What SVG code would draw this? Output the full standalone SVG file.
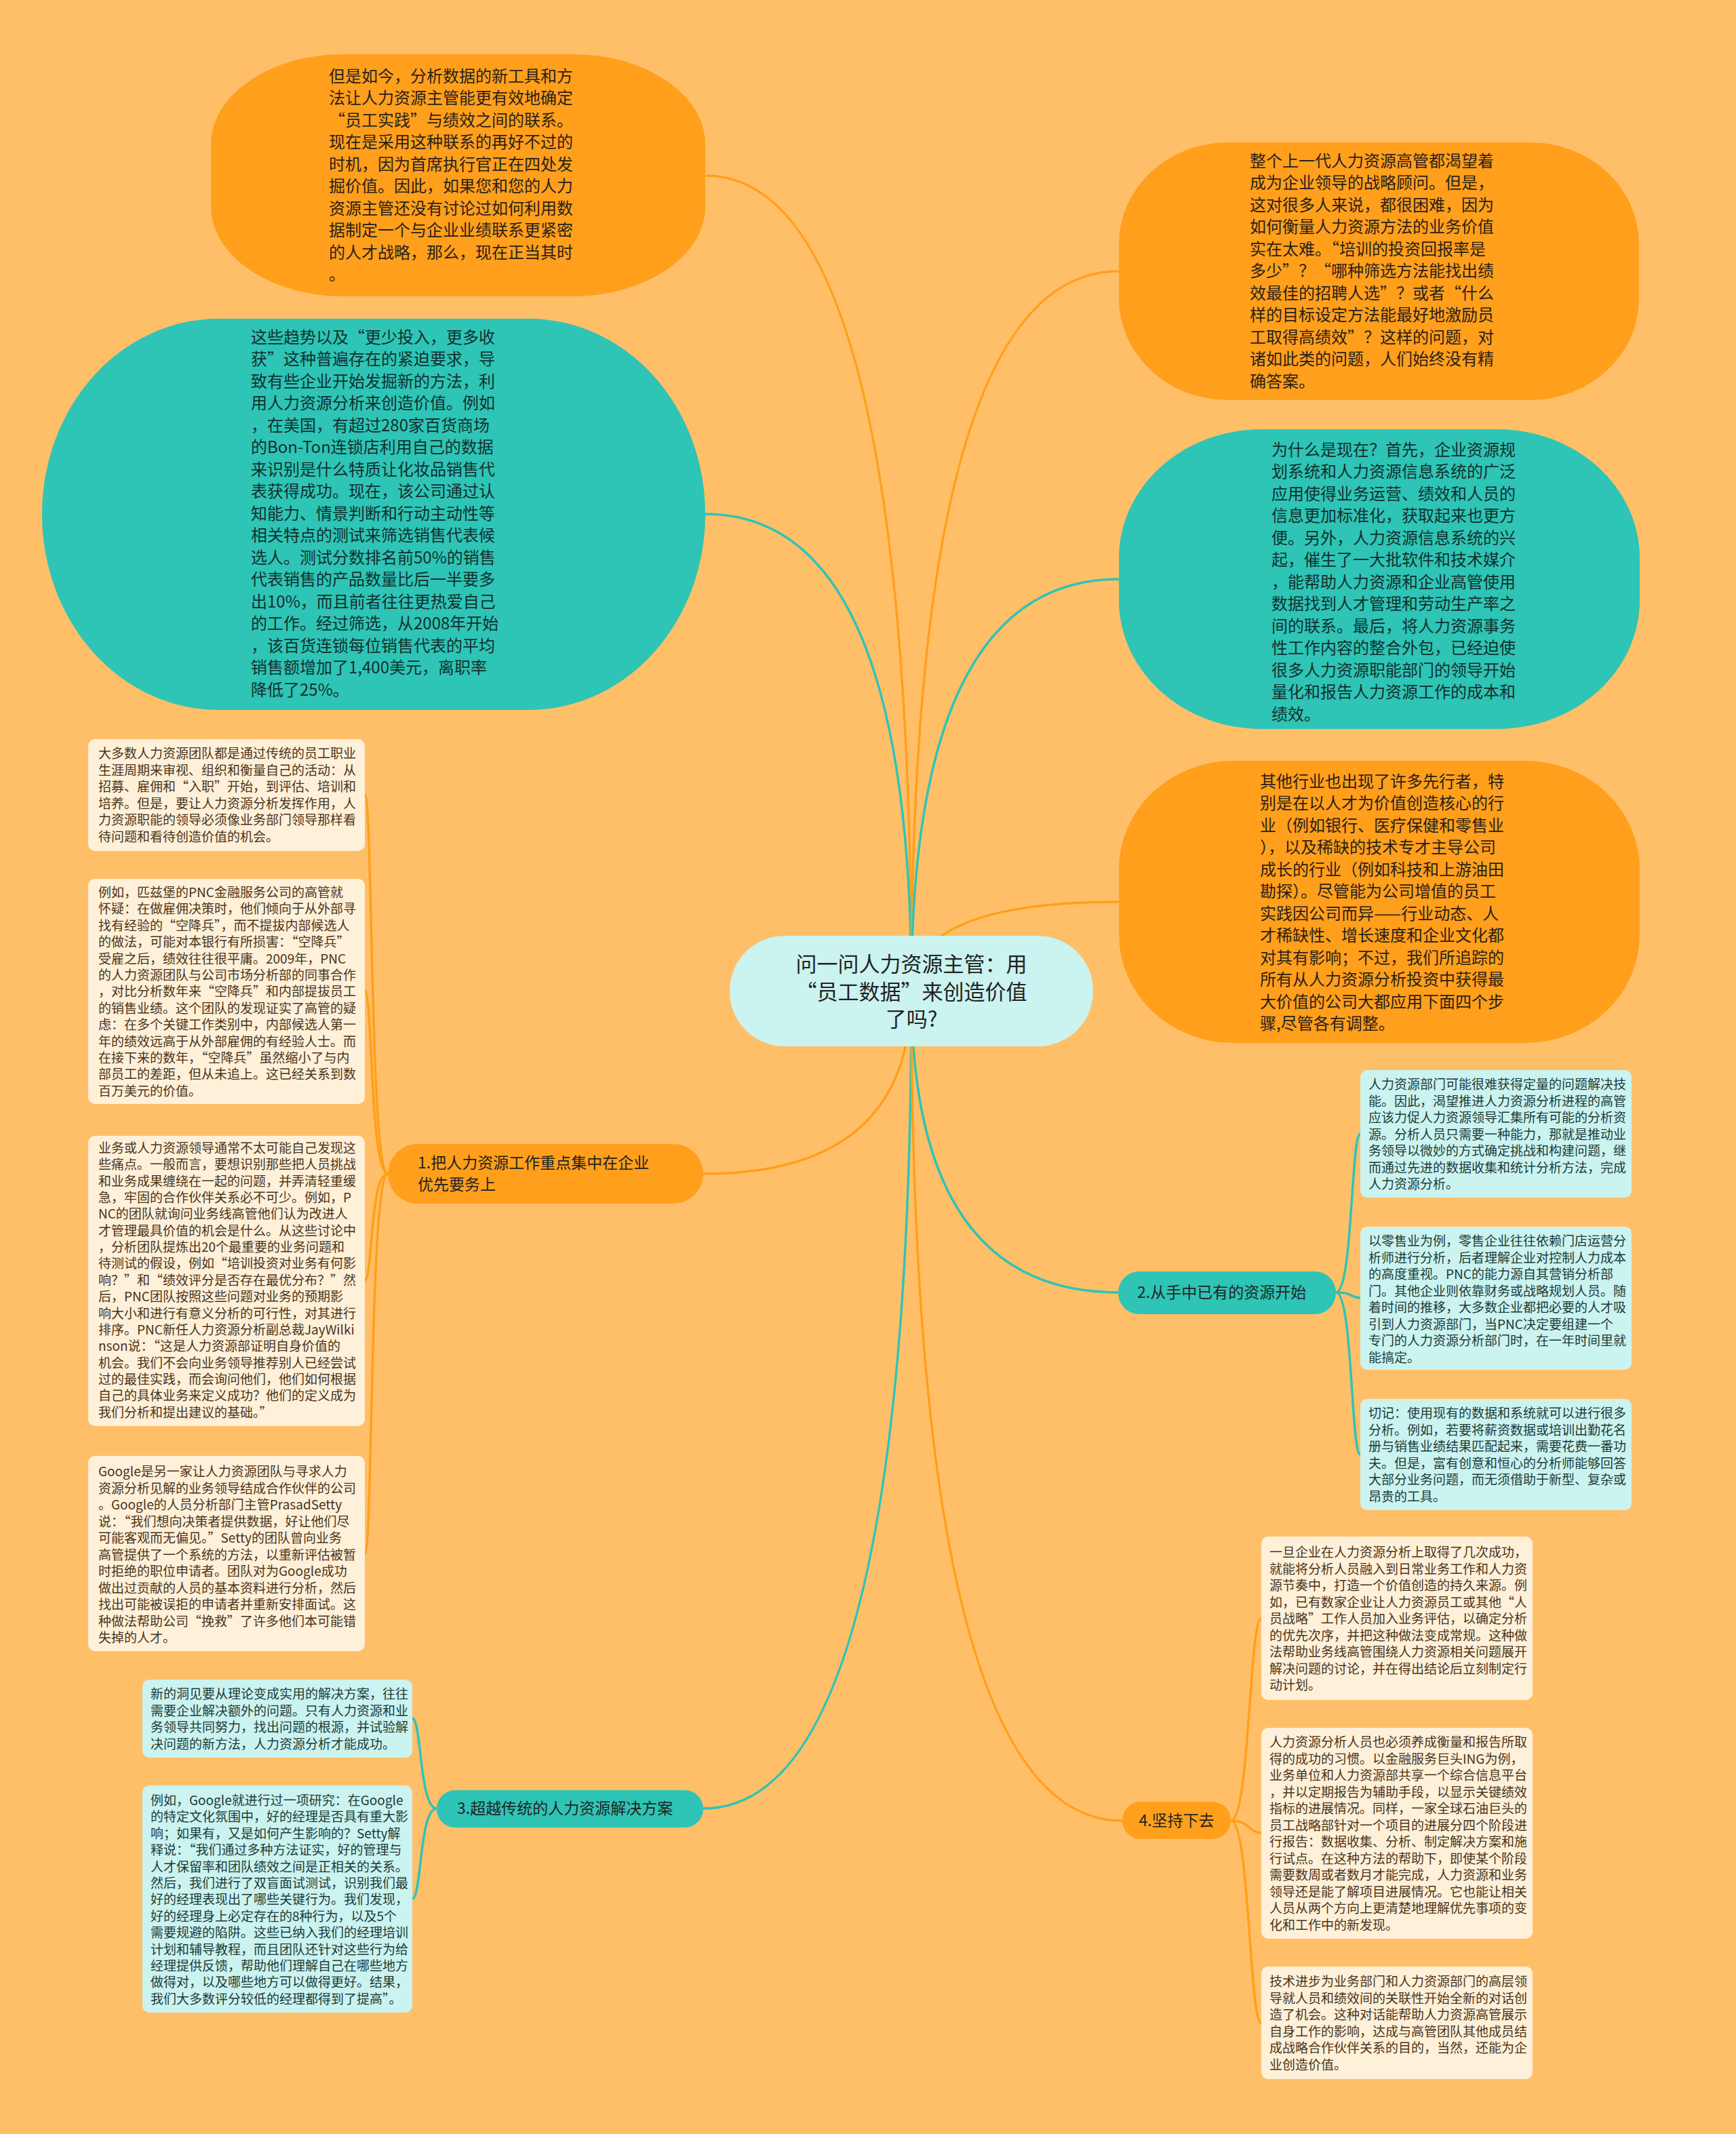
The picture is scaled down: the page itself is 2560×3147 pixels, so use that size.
<svg xmlns="http://www.w3.org/2000/svg" width="2560" height="3147" viewBox="0 0 2560 3147">
<style>
.bg{fill:#FFBF69}
.or{fill:#FF9F1C}
.te{fill:#2EC4B6}
.ce{fill:#CBF3F0}
.bo{fill:#FFF0D9}
.bt{fill:#CBF3F0}
.lo{fill:none;stroke:#FF9F1C;stroke-width:3.5}
.lt{fill:none;stroke:#2EC4B6;stroke-width:3.5}
text{font-family:"Noto Sans CJK SC","Noto Sans",sans-serif}
.big{font-size:24px}
.sm{font-size:19px}
.lab{font-size:23px;fill:#222}
.dko{fill:#2A2118}
.dkt{fill:#12302D}
.bro{fill:#4A3318}
.brt{fill:#1C3A37}
</style>
<rect class="bg" x="0" y="0" width="2560" height="3147"/>
<g id="connectors">
<path class="lo" d="M1344,1461 Q1344,259 1040,259"/>
<path class="lt" d="M1344,1461 Q1344,758 1040,758"/>
<path class="lo" d="M1344,1461 Q1344,400 1650,400"/>
<path class="lt" d="M1344,1461 Q1344,854 1650,854"/>
<path class="lo" d="M1344,1461 Q1344,1330 1650,1330"/>
<path class="lo" d="M1344,1461 Q1344,1731 1037,1731"/>
<path class="lt" d="M1344,1461 Q1344,1906 1649,1906"/>
<path class="lt" d="M1344,1461 Q1344,2667 1037,2667"/>
<path class="lo" d="M1344,1461 Q1344,2685 1655,2685"/>
<path class="lo" d="M572,1731 C545,1731 550,1172 538,1172"/>
<path class="lo" d="M572,1731 C545,1731 550,1462 538,1462"/>
<path class="lo" d="M572,1731 C545,1731 550,1888 538,1888"/>
<path class="lo" d="M572,1731 C545,1731 550,2291 538,2291"/>
<path class="lt" d="M1970,1906 C1995,1906 1992,1672 2006,1672"/>
<path class="lt" d="M1970,1906 C1995,1906 1992,1914 2006,1914"/>
<path class="lt" d="M1970,1906 C1995,1906 1992,2145 2006,2145"/>
<path class="lt" d="M644,2667 C618,2667 622,2534 608,2534"/>
<path class="lt" d="M644,2667 C618,2667 622,2800 608,2800"/>
<path class="lo" d="M1815,2685 C1843,2685 1842,2387 1860,2387"/>
<path class="lo" d="M1815,2685 C1843,2685 1842,2703 1860,2703"/>
<path class="lo" d="M1815,2685 C1843,2685 1842,2983 1860,2983"/>
</g>
<g id="center">
<rect class="ce" x="1076" y="1380" width="536" height="163" rx="81"/>
<text x="1344" y="1433" font-size="31" fill="#222" text-anchor="middle"><tspan x="1344">问一问人力资源主管：用</tspan><tspan x="1344" dy="40.5">“员工数据”来创造价值</tspan><tspan x="1344" dy="40.5">了吗?</tspan></text>
</g>
<g id="node-tl">
<rect class="or" x="311" y="80" width="729" height="357" rx="195" ry="133"/>
<text class="big dko" x="485" y="120.5"><tspan x="485">但是如今，分析数据的新工具和方</tspan><tspan x="485" dy="32.5">法让人力资源主管能更有效地确定</tspan><tspan x="485" dy="32.5">“员工实践”与绩效之间的联系。</tspan><tspan x="485" dy="32.5">现在是采用这种联系的再好不过的</tspan><tspan x="485" dy="32.5">时机，因为首席执行官正在四处发</tspan><tspan x="485" dy="32.5">掘价值。因此，如果您和您的人力</tspan><tspan x="485" dy="32.5">资源主管还没有讨论过如何利用数</tspan><tspan x="485" dy="32.5">据制定一个与企业业绩联系更紧密</tspan><tspan x="485" dy="32.5">的人才战略，那么，现在正当其时</tspan><tspan x="485" dy="32.5">。</tspan></text>
</g>
<g id="node-tealleft">
<rect class="te" x="62" y="470" width="978" height="577" rx="260" ry="288"/>
<text class="big dkt" x="370" y="505.5"><tspan x="370">这些趋势以及“更少投入，更多收</tspan><tspan x="370" dy="32.5">获”这种普遍存在的紧迫要求，导</tspan><tspan x="370" dy="32.5">致有些企业开始发掘新的方法，利</tspan><tspan x="370" dy="32.5">用人力资源分析来创造价值。例如</tspan><tspan x="370" dy="32.5">，在美国，有超过280家百货商场</tspan><tspan x="370" dy="32.5">的Bon-Ton连锁店利用自己的数据</tspan><tspan x="370" dy="32.5">来识别是什么特质让化妆品销售代</tspan><tspan x="370" dy="32.5">表获得成功。现在，该公司通过认</tspan><tspan x="370" dy="32.5">知能力、情景判断和行动主动性等</tspan><tspan x="370" dy="32.5">相关特点的测试来筛选销售代表候</tspan><tspan x="370" dy="32.5">选人。测试分数排名前50%的销售</tspan><tspan x="370" dy="32.5">代表销售的产品数量比后一半要多</tspan><tspan x="370" dy="32.5">出10%，而且前者往往更热爱自己</tspan><tspan x="370" dy="32.5">的工作。经过筛选，从2008年开始</tspan><tspan x="370" dy="32.5">，该百货连锁每位销售代表的平均</tspan><tspan x="370" dy="32.5">销售额增加了1,400美元，离职率</tspan><tspan x="370" dy="32.5">降低了25%。</tspan></text>
</g>
<g id="node-r1">
<rect class="or" x="1650" y="210" width="767" height="380" rx="160" ry="150"/>
<text class="big dko" x="1843" y="245.5"><tspan x="1843">整个上一代人力资源高管都渴望着</tspan><tspan x="1843" dy="32.5">成为企业领导的战略顾问。但是，</tspan><tspan x="1843" dy="32.5">这对很多人来说，都很困难，因为</tspan><tspan x="1843" dy="32.5">如何衡量人力资源方法的业务价值</tspan><tspan x="1843" dy="32.5">实在太难。“培训的投资回报率是</tspan><tspan x="1843" dy="32.5">多少”？“哪种筛选方法能找出绩</tspan><tspan x="1843" dy="32.5">效最佳的招聘人选”？或者“什么</tspan><tspan x="1843" dy="32.5">样的目标设定方法能最好地激励员</tspan><tspan x="1843" dy="32.5">工取得高绩效”？这样的问题，对</tspan><tspan x="1843" dy="32.5">诸如此类的问题，人们始终没有精</tspan><tspan x="1843" dy="32.5">确答案。</tspan></text>
</g>
<g id="node-r2">
<rect class="te" x="1650" y="633" width="768" height="442" rx="210" ry="190"/>
<text class="big dkt" x="1875" y="671.5"><tspan x="1875">为什么是现在？首先，企业资源规</tspan><tspan x="1875" dy="32.5">划系统和人力资源信息系统的广泛</tspan><tspan x="1875" dy="32.5">应用使得业务运营、绩效和人员的</tspan><tspan x="1875" dy="32.5">信息更加标准化，获取起来也更方</tspan><tspan x="1875" dy="32.5">便。另外，人力资源信息系统的兴</tspan><tspan x="1875" dy="32.5">起，催生了一大批软件和技术媒介</tspan><tspan x="1875" dy="32.5">，能帮助人力资源和企业高管使用</tspan><tspan x="1875" dy="32.5">数据找到人才管理和劳动生产率之</tspan><tspan x="1875" dy="32.5">间的联系。最后，将人力资源事务</tspan><tspan x="1875" dy="32.5">性工作内容的整合外包，已经迫使</tspan><tspan x="1875" dy="32.5">很多人力资源职能部门的领导开始</tspan><tspan x="1875" dy="32.5">量化和报告人力资源工作的成本和</tspan><tspan x="1875" dy="32.5">绩效。</tspan></text>
</g>
<g id="node-r3">
<rect class="or" x="1650" y="1122" width="768" height="416" rx="168" ry="160"/>
<text class="big dko" x="1858" y="1160.5"><tspan x="1858">其他行业也出现了许多先行者，特</tspan><tspan x="1858" dy="32.5">别是在以人才为价值创造核心的行</tspan><tspan x="1858" dy="32.5">业（例如银行、医疗保健和零售业</tspan><tspan x="1858" dy="32.5">），以及稀缺的技术专才主导公司</tspan><tspan x="1858" dy="32.5">成长的行业（例如科技和上游油田</tspan><tspan x="1858" dy="32.5">勘探）。尽管能为公司增值的员工</tspan><tspan x="1858" dy="32.5">实践因公司而异——行业动态、人</tspan><tspan x="1858" dy="32.5">才稀缺性、增长速度和企业文化都</tspan><tspan x="1858" dy="32.5">对其有影响；不过，我们所追踪的</tspan><tspan x="1858" dy="32.5">所有从人力资源分析投资中获得最</tspan><tspan x="1858" dy="32.5">大价值的公司大都应用下面四个步</tspan><tspan x="1858" dy="32.5">骤,尽管各有调整。</tspan></text>
</g>
<g id="branch-1">
<rect class="or" x="572" y="1687" width="465" height="88" rx="44"/>
<text class="lab" x="616" y="1723"><tspan x="616">1.把人力资源工作重点集中在企业</tspan><tspan x="616" dy="32">优先要务上</tspan></text>
</g>
<g id="box-1a">
<rect class="bo" x="130" y="1090" width="408" height="165" rx="10"/>
<text class="sm bro" x="145" y="1118"><tspan x="145">大多数人力资源团队都是通过传统的员工职业</tspan><tspan x="145" dy="24.5">生涯周期来审视、组织和衡量自己的活动：从</tspan><tspan x="145" dy="24.5">招募、雇佣和“入职”开始，到评估、培训和</tspan><tspan x="145" dy="24.5">培养。但是，要让人力资源分析发挥作用，人</tspan><tspan x="145" dy="24.5">力资源职能的领导必须像业务部门领导那样看</tspan><tspan x="145" dy="24.5">待问题和看待创造价值的机会。</tspan></text>
</g>
<g id="box-1b">
<rect class="bo" x="130" y="1296" width="408" height="332" rx="10"/>
<text class="sm bro" x="145" y="1323"><tspan x="145">例如，匹兹堡的PNC金融服务公司的高管就</tspan><tspan x="145" dy="24.4">怀疑：在做雇佣决策时，他们倾向于从外部寻</tspan><tspan x="145" dy="24.4">找有经验的“空降兵”，而不提拔内部候选人</tspan><tspan x="145" dy="24.4">的做法，可能对本银行有所损害：“空降兵”</tspan><tspan x="145" dy="24.4">受雇之后，绩效往往很平庸。2009年，PNC</tspan><tspan x="145" dy="24.4">的人力资源团队与公司市场分析部的同事合作</tspan><tspan x="145" dy="24.4">，对比分析数年来“空降兵”和内部提拔员工</tspan><tspan x="145" dy="24.4">的销售业绩。这个团队的发现证实了高管的疑</tspan><tspan x="145" dy="24.4">虑：在多个关键工作类别中，内部候选人第一</tspan><tspan x="145" dy="24.4">年的绩效远高于从外部雇佣的有经验人士。而</tspan><tspan x="145" dy="24.4">在接下来的数年，“空降兵”虽然缩小了与内</tspan><tspan x="145" dy="24.4">部员工的差距，但从未追上。这已经关系到数</tspan><tspan x="145" dy="24.4">百万美元的价值。</tspan></text>
</g>
<g id="box-1c">
<rect class="bo" x="130" y="1675" width="408" height="428" rx="10"/>
<text class="sm bro" x="145" y="1700"><tspan x="145">业务或人力资源领导通常不太可能自己发现这</tspan><tspan x="145" dy="24.35">些痛点。一般而言，要想识别那些把人员挑战</tspan><tspan x="145" dy="24.35">和业务成果缠绕在一起的问题，并弄清轻重缓</tspan><tspan x="145" dy="24.35">急，牢固的合作伙伴关系必不可少。例如，P</tspan><tspan x="145" dy="24.35">NC的团队就询问业务线高管他们认为改进人</tspan><tspan x="145" dy="24.35">才管理最具价值的机会是什么。从这些讨论中</tspan><tspan x="145" dy="24.35">，分析团队提炼出20个最重要的业务问题和</tspan><tspan x="145" dy="24.35">待测试的假设，例如“培训投资对业务有何影</tspan><tspan x="145" dy="24.35">响？”和“绩效评分是否存在最优分布？”然</tspan><tspan x="145" dy="24.35">后，PNC团队按照这些问题对业务的预期影</tspan><tspan x="145" dy="24.35">响大小和进行有意义分析的可行性，对其进行</tspan><tspan x="145" dy="24.35">排序。PNC新任人力资源分析副总裁JayWilki</tspan><tspan x="145" dy="24.35">nson说：“这是人力资源部证明自身价值的</tspan><tspan x="145" dy="24.35">机会。我们不会向业务领导推荐别人已经尝试</tspan><tspan x="145" dy="24.35">过的最佳实践，而会询问他们，他们如何根据</tspan><tspan x="145" dy="24.35">自己的具体业务来定义成功？他们的定义成为</tspan><tspan x="145" dy="24.35">我们分析和提出建议的基础。”</tspan></text>
</g>
<g id="box-1d">
<rect class="bo" x="130" y="2147" width="408" height="288" rx="10"/>
<text class="sm bro" x="145" y="2177"><tspan x="145">Google是另一家让人力资源团队与寻求人力</tspan><tspan x="145" dy="24.5">资源分析见解的业务领导结成合作伙伴的公司</tspan><tspan x="145" dy="24.5">。Google的人员分析部门主管PrasadSetty</tspan><tspan x="145" dy="24.5">说：“我们想向决策者提供数据，好让他们尽</tspan><tspan x="145" dy="24.5">可能客观而无偏见。”Setty的团队曾向业务</tspan><tspan x="145" dy="24.5">高管提供了一个系统的方法，以重新评估被暂</tspan><tspan x="145" dy="24.5">时拒绝的职位申请者。团队对为Google成功</tspan><tspan x="145" dy="24.5">做出过贡献的人员的基本资料进行分析，然后</tspan><tspan x="145" dy="24.5">找出可能被误拒的申请者并重新安排面试。这</tspan><tspan x="145" dy="24.5">种做法帮助公司“挽救”了许多他们本可能错</tspan><tspan x="145" dy="24.5">失掉的人才。</tspan></text>
</g>
<g id="branch-2">
<rect class="te" x="1649" y="1875" width="321" height="63" rx="31"/>
<text class="lab" x="1677" y="1914">2.从手中已有的资源开始</text>
</g>
<g id="box-2a">
<rect class="bt" x="2006" y="1578" width="400" height="188" rx="10"/>
<text class="sm brt" x="2018" y="1606"><tspan x="2018">人力资源部门可能很难获得定量的问题解决技</tspan><tspan x="2018" dy="24.5">能。因此，渴望推进人力资源分析进程的高管</tspan><tspan x="2018" dy="24.5">应该力促人力资源领导汇集所有可能的分析资</tspan><tspan x="2018" dy="24.5">源。分析人员只需要一种能力，那就是推动业</tspan><tspan x="2018" dy="24.5">务领导以微妙的方式确定挑战和构建问题，继</tspan><tspan x="2018" dy="24.5">而通过先进的数据收集和统计分析方法，完成</tspan><tspan x="2018" dy="24.5">人力资源分析。</tspan></text>
</g>
<g id="box-2b">
<rect class="bt" x="2006" y="1809" width="400" height="211" rx="10"/>
<text class="sm brt" x="2018" y="1837"><tspan x="2018">以零售业为例，零售企业往往依赖门店运营分</tspan><tspan x="2018" dy="24.5">析师进行分析，后者理解企业对控制人力成本</tspan><tspan x="2018" dy="24.5">的高度重视。PNC的能力源自其营销分析部</tspan><tspan x="2018" dy="24.5">门。其他企业则依靠财务或战略规划人员。随</tspan><tspan x="2018" dy="24.5">着时间的推移，大多数企业都把必要的人才吸</tspan><tspan x="2018" dy="24.5">引到人力资源部门，当PNC决定要组建一个</tspan><tspan x="2018" dy="24.5">专门的人力资源分析部门时，在一年时间里就</tspan><tspan x="2018" dy="24.5">能搞定。</tspan></text>
</g>
<g id="box-2c">
<rect class="bt" x="2006" y="2063" width="400" height="164" rx="10"/>
<text class="sm brt" x="2018" y="2091"><tspan x="2018">切记：使用现有的数据和系统就可以进行很多</tspan><tspan x="2018" dy="24.5">分析。例如，若要将薪资数据或培训出勤花名</tspan><tspan x="2018" dy="24.5">册与销售业绩结果匹配起来，需要花费一番功</tspan><tspan x="2018" dy="24.5">夫。但是，富有创意和恒心的分析师能够回答</tspan><tspan x="2018" dy="24.5">大部分业务问题，而无须借助于新型、复杂或</tspan><tspan x="2018" dy="24.5">昂贵的工具。</tspan></text>
</g>
<g id="branch-3">
<rect class="te" x="644" y="2640" width="393" height="55" rx="27"/>
<text class="lab" x="674" y="2675">3.超越传统的人力资源解决方案</text>
</g>
<g id="box-3a">
<rect class="bt" x="210" y="2477" width="398" height="115" rx="10"/>
<text class="sm brt" x="222" y="2505"><tspan x="222">新的洞见要从理论变成实用的解决方案，往往</tspan><tspan x="222" dy="24.5">需要企业解决额外的问题。只有人力资源和业</tspan><tspan x="222" dy="24.5">务领导共同努力，找出问题的根源，并试验解</tspan><tspan x="222" dy="24.5">决问题的新方法，人力资源分析才能成功。</tspan></text>
</g>
<g id="box-3b">
<rect class="bt" x="210" y="2633" width="398" height="335" rx="10"/>
<text class="sm brt" x="222" y="2662"><tspan x="222">例如，Google就进行过一项研究：在Google</tspan><tspan x="222" dy="24.4">的特定文化氛围中，好的经理是否具有重大影</tspan><tspan x="222" dy="24.4">响；如果有，又是如何产生影响的？Setty解</tspan><tspan x="222" dy="24.4">释说：“我们通过多种方法证实，好的管理与</tspan><tspan x="222" dy="24.4">人才保留率和团队绩效之间是正相关的关系。</tspan><tspan x="222" dy="24.4">然后，我们进行了双盲面试测试，识别我们最</tspan><tspan x="222" dy="24.4">好的经理表现出了哪些关键行为。我们发现，</tspan><tspan x="222" dy="24.4">好的经理身上必定存在的8种行为，以及5个</tspan><tspan x="222" dy="24.4">需要规避的陷阱。这些已纳入我们的经理培训</tspan><tspan x="222" dy="24.4">计划和辅导教程，而且团队还针对这些行为给</tspan><tspan x="222" dy="24.4">经理提供反馈，帮助他们理解自己在哪些地方</tspan><tspan x="222" dy="24.4">做得对，以及哪些地方可以做得更好。结果，</tspan><tspan x="222" dy="24.4">我们大多数评分较低的经理都得到了提高”。</tspan></text>
</g>
<g id="branch-4">
<rect class="or" x="1655" y="2657" width="160" height="55" rx="27"/>
<text class="lab" x="1735" y="2693" text-anchor="middle">4.坚持下去</text>
</g>
<g id="box-4a">
<rect class="bo" x="1860" y="2266" width="400" height="241" rx="10"/>
<text class="sm bro" x="1872" y="2296"><tspan x="1872">一旦企业在人力资源分析上取得了几次成功，</tspan><tspan x="1872" dy="24.5">就能将分析人员融入到日常业务工作和人力资</tspan><tspan x="1872" dy="24.5">源节奏中，打造一个价值创造的持久来源。例</tspan><tspan x="1872" dy="24.5">如，已有数家企业让人力资源员工或其他“人</tspan><tspan x="1872" dy="24.5">员战略”工作人员加入业务评估，以确定分析</tspan><tspan x="1872" dy="24.5">的优先次序，并把这种做法变成常规。这种做</tspan><tspan x="1872" dy="24.5">法帮助业务线高管围绕人力资源相关问题展开</tspan><tspan x="1872" dy="24.5">解决问题的讨论，并在得出结论后立刻制定行</tspan><tspan x="1872" dy="24.5">动计划。</tspan></text>
</g>
<g id="box-4b">
<rect class="bo" x="1860" y="2548" width="400" height="311" rx="10"/>
<text class="sm bro" x="1872" y="2576"><tspan x="1872">人力资源分析人员也必须养成衡量和报告所取</tspan><tspan x="1872" dy="24.5">得的成功的习惯。以金融服务巨头ING为例，</tspan><tspan x="1872" dy="24.5">业务单位和人力资源部共享一个综合信息平台</tspan><tspan x="1872" dy="24.5">，并以定期报告为辅助手段，以显示关键绩效</tspan><tspan x="1872" dy="24.5">指标的进展情况。同样，一家全球石油巨头的</tspan><tspan x="1872" dy="24.5">员工战略部针对一个项目的进展分四个阶段进</tspan><tspan x="1872" dy="24.5">行报告：数据收集、分析、制定解决方案和施</tspan><tspan x="1872" dy="24.5">行试点。在这种方法的帮助下，即使某个阶段</tspan><tspan x="1872" dy="24.5">需要数周或者数月才能完成，人力资源和业务</tspan><tspan x="1872" dy="24.5">领导还是能了解项目进展情况。它也能让相关</tspan><tspan x="1872" dy="24.5">人员从两个方向上更清楚地理解优先事项的变</tspan><tspan x="1872" dy="24.5">化和工作中的新发现。</tspan></text>
</g>
<g id="box-4c">
<rect class="bo" x="1860" y="2900" width="400" height="166" rx="10"/>
<text class="sm bro" x="1872" y="2929"><tspan x="1872">技术进步为业务部门和人力资源部门的高层领</tspan><tspan x="1872" dy="24.5">导就人员和绩效间的关联性开始全新的对话创</tspan><tspan x="1872" dy="24.5">造了机会。这种对话能帮助人力资源高管展示</tspan><tspan x="1872" dy="24.5">自身工作的影响，达成与高管团队其他成员结</tspan><tspan x="1872" dy="24.5">成战略合作伙伴关系的目的，当然，还能为企</tspan><tspan x="1872" dy="24.5">业创造价值。</tspan></text>
</g>
</svg>
